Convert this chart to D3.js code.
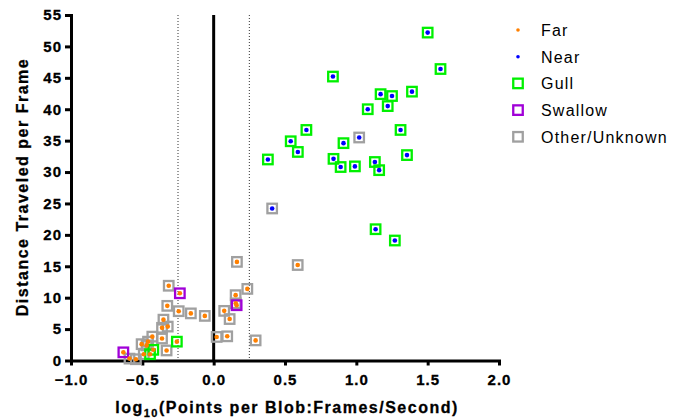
<!doctype html>
<html>
  <head>
    <meta charset="utf-8">
    <script src="https://cdnjs.cloudflare.com/ajax/libs/d3/7.8.5/d3.min.js"></script>
    <style>
      body { margin: 0; background: #fff; }
      svg { font-family: "Liberation Sans", Arial, sans-serif; }
      .tick text { font-size: 15px; font-weight: bold; letter-spacing: 1px; fill: #000; }
    </style>
  </head>
  <body>
    <svg id="chart" width="684" height="420"></svg>
    <script>
      // x = log10(points per blob : frames/second), y = distance per frame, box = species class
      var nearPoints = [
        [1.50, 52.2, "Gull"], [1.59, 46.4, "Gull"], [0.836, 45.2, "Gull"], [1.17, 42.4, "Gull"],
        [1.25, 42.1, "Gull"], [1.39, 42.8, "Gull"], [1.22, 40.5, "Gull"], [1.08, 40.0, "Gull"],
        [0.65, 36.7, "Gull"], [1.31, 36.7, "Gull"], [0.54, 34.9, "Gull"], [0.91, 34.6, "Gull"],
        [0.59, 33.2, "Gull"], [1.355, 32.7, "Gull"], [0.38, 32.0, "Gull"], [0.84, 32.1, "Gull"],
        [0.89, 30.8, "Gull"], [0.99, 30.9, "Gull"], [1.13, 31.6, "Gull"], [1.16, 30.3, "Gull"],
        [1.135, 20.9, "Gull"], [1.27, 19.1, "Gull"],
        [1.02, 35.5, "Other"], [0.41, 24.2, "Other"]
      ];
      var farPoints = [
        [0.163, 15.7, "Other"], [0.589, 15.2, "Other"], [0.236, 11.4, "Other"], [0.154, 10.4, "Other"],
        [0.155, 9.1, "Other"], [0.074, 7.9, "Other"], [0.112, 6.6, "Other"], [0.021, 3.75, "Other"],
        [0.095, 3.85, "Other"], [0.294, 3.2, "Other"], [-0.315, 11.9, "Other"], [-0.325, 8.7, "Other"],
        [-0.245, 7.85, "Other"], [-0.16, 7.5, "Other"], [-0.062, 7.1, "Other"], [-0.352, 6.5, "Other"],
        [-0.362, 5.2, "Other"], [-0.322, 5.4, "Other"], [-0.362, 3.5, "Other"], [-0.43, 3.8, "Other"],
        [-0.33, 1.6, "Other"], [-0.505, 2.6, "Other"], [-0.47, 2.4, "Other"], [-0.59, 0.3, "Other"],
        [-0.545, 0.2, "Other"], [-0.49, 1.0, "Other"], [-0.46, 3.0, "Other"],
        [0.161, 8.8, "Swallow"], [-0.237, 10.7, "Swallow"], [-0.633, 1.3, "Swallow"],
        [-0.258, 3.0, "Gull"], [-0.423, 1.7, "Gull"], [-0.446, 1.0, "Gull"]
      ];
      var xTicks = [-1.0, -0.5, 0.0, 0.5, 1.0, 1.5, 2.0];
      var yTicks = [0, 5, 10, 15, 20, 25, 30, 35, 40, 45, 50, 55];
      var thresholds = [-0.25, 0.25];
      var boxColors = { Gull: "#00f000", Swallow: "#a000d8", Other: "#a0a0a0" };
      var dotColors = { Far: "#ff8000", Near: "#0000ff" };
      var legendItems = [
        { label: "Far", kind: "dot", color: dotColors.Far },
        { label: "Near", kind: "dot", color: dotColors.Near },
        { label: "Gull", kind: "box", color: boxColors.Gull },
        { label: "Swallow", kind: "box", color: boxColors.Swallow },
        { label: "Other/Unknown", kind: "box", color: boxColors.Other }
      ];

      var svg = d3.select("#chart");
      var x = d3.scaleLinear().domain([-1, 2]).range([71, 499]);
      var y = d3.scaleLinear().domain([0, 55]).range([360.5, 15]);

      // threshold lines
      svg.selectAll("line.thr").data(thresholds).enter().append("line")
        .attr("class", "thr")
        .attr("x1", d => x(d)).attr("x2", d => x(d))
        .attr("y1", y(55)).attr("y2", y(0))
        .attr("stroke", "#333").attr("stroke-width", 1).attr("stroke-dasharray", "1,2");

      svg.append("line")
        .attr("x1", x(0)).attr("x2", x(0))
        .attr("y1", y(55)).attr("y2", y(0))
        .attr("stroke", "#000").attr("stroke-width", 3);

      // axes
      var yAxis = svg.append("g").attr("transform", "translate(" + x(-1) + ",0)")
        .call(d3.axisLeft(y).tickValues(yTicks).tickFormat(d3.format("d")).tickSize(6).tickSizeOuter(0).tickPadding(3));
      var xAxis = svg.append("g").attr("transform", "translate(0," + y(0) + ")")
        .call(d3.axisBottom(x).tickValues(xTicks).tickFormat(d3.format(".1f")).tickSize(5).tickSizeOuter(0).tickPadding(9));
      [xAxis, yAxis].forEach(function (g) {
        g.select(".domain").attr("stroke-width", 3).attr("stroke-linecap", "square");
        g.selectAll(".tick line").attr("stroke-width", 3);
        g.selectAll(".tick text").attr("stroke", "#000").attr("stroke-width", 0.3);
      });

      // marks
      var all = farPoints.map(d => ({ x: d[0], y: d[1], box: d[2], dist: "Far" }))
        .concat(nearPoints.map(d => ({ x: d[0], y: d[1], box: d[2], dist: "Near" })));
      var order = ["Other", "Gull", "Swallow"];
      var side = 9.5;
      order.forEach(function (b) {
        svg.append("g").selectAll("rect").data(all.filter(d => d.box === b)).enter().append("rect")
          .attr("x", d => x(d.x) - side / 2).attr("y", d => y(d.y) - side / 2)
          .attr("width", side).attr("height", side)
          .attr("fill", "none").attr("stroke", boxColors[b]).attr("stroke-width", 2.3);
      });
      svg.append("g").selectAll("circle").data(all).enter().append("circle")
        .attr("cx", d => x(d.x)).attr("cy", d => y(d.y)).attr("r", 2.3)
        .attr("fill", d => dotColors[d.dist]);

      // legend
      var lg = svg.append("g");
      var items = lg.selectAll("g").data(legendItems).enter().append("g")
        .attr("transform", (d, i) => "translate(518," + (30 + i * 26.7) + ")");
      items.filter(d => d.kind === "dot").append("circle").attr("r", 1.8).attr("fill", d => d.color);
      items.filter(d => d.kind === "box").append("rect")
        .attr("x", -side / 2).attr("y", -side / 2).attr("width", side).attr("height", side)
        .attr("fill", "none").attr("stroke", d => d.color).attr("stroke-width", 2.3);
      items.append("text").attr("x", 23).attr("y", 6)
        .style("font-size", "16px").style("letter-spacing", "1.2px").text(d => d.label);

      // axis titles
      var xt = svg.append("text").attr("x", 287).attr("y", 413).attr("text-anchor", "middle")
        .style("font-size", "16px").style("font-weight", "bold").style("letter-spacing", "1.5px")
        .attr("stroke", "#000").attr("stroke-width", 0.3);
      xt.append("tspan").text("log");
      xt.append("tspan").attr("dy", 4).style("font-size", "11px").text("10");
      xt.append("tspan").attr("dy", -4).text("(Points per Blob:Frames/Second)");

      svg.append("text").attr("transform", "translate(28,187) rotate(-90)").attr("text-anchor", "middle")
        .style("font-size", "16px").style("font-weight", "bold").style("letter-spacing", "1.5px")
        .attr("stroke", "#000").attr("stroke-width", 0.3)
        .text("Distance Traveled per Frame");
    </script>
  </body>
</html>
